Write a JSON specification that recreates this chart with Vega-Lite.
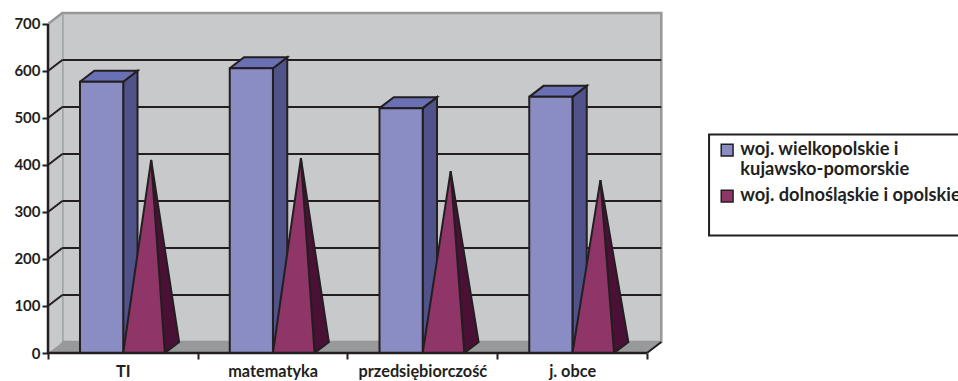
{
  "$schema": "https://vega.github.io/schema/vega-lite/v6.json",
  "width": 910,
  "height": 340,
  "padding": {"left": 48, "top": 13, "right": 0, "bottom": 28},
  "autosize": "none",
  "background": "white",
  "params": [
    {"name": "DX", "value": 0.0955},
    {"name": "DY", "value": 23.4}
  ],
  "config": {
    "view": {"stroke": null},
    "font": "Lato",
    "axis": {"grid": false}
  },
  "resolve": {"axis": {"x": "independent", "y": "independent"}},
  "datasets": {
    "wyniki": [
      {"kategoria": "TI", "seria": "woj. wielkopolskie i kujawsko-pomorskie", "wynik": 577},
      {"kategoria": "matematyka", "seria": "woj. wielkopolskie i kujawsko-pomorskie", "wynik": 606},
      {"kategoria": "przedsiębiorczość", "seria": "woj. wielkopolskie i kujawsko-pomorskie", "wynik": 521},
      {"kategoria": "j. obce", "seria": "woj. wielkopolskie i kujawsko-pomorskie", "wynik": 545},
      {"kategoria": "TI", "seria": "woj. dolnośląskie i opolskie", "wynik": 399},
      {"kategoria": "matematyka", "seria": "woj. dolnośląskie i opolskie", "wynik": 403},
      {"kategoria": "przedsiębiorczość", "seria": "woj. dolnośląskie i opolskie", "wynik": 375},
      {"kategoria": "j. obce", "seria": "woj. dolnośląskie i opolskie", "wynik": 356}
    ],
    "poziomy": [
      {"poziom": 100}, {"poziom": 200}, {"poziom": 300},
      {"poziom": 400}, {"poziom": 500}, {"poziom": 600}
    ],
    "plaszczyzny": [
      {"plaszczyzna": "lewa"},
      {"plaszczyzna": "podloga"}
    ]
  },
  "layer": [
    {
      "description": "Back wall",
      "data": {"values": [{"sciana": "tylna"}]},
      "mark": {"type": "rect", "fill": "#c8c9cb", "stroke": "#96989a", "strokeWidth": 2.5},
      "encoding": {
        "x": {"datum": {"expr": "DX"}, "type": "quantitative", "axis": null},
        "x2": {"datum": {"expr": "4 + DX"}},
        "y": {"datum": {"expr": "DY"}, "type": "quantitative", "axis": null},
        "y2": {"datum": {"expr": "700 + DY"}}
      }
    },
    {
      "description": "Left wall and floor as closed outlines; carries both position scales and axes",
      "data": {"name": "plaszczyzny"},
      "transform": [
        {"calculate": "datum.plaszczyzna == 'lewa' ? [0, DX, DX, 0, 0] : [0, 4, 4 + DX, DX, 0]", "as": "xs"},
        {"calculate": "datum.plaszczyzna == 'lewa' ? [0, DY, 700 + DY, 700, 0] : [0, 0, DY, DY, 0]", "as": "ys"},
        {"calculate": "[0, 1, 2, 3, 4]", "as": "kolejnosc"},
        {"flatten": ["xs", "ys", "kolejnosc"]}
      ],
      "mark": {"type": "line", "filled": true, "strokeWidth": 0},
      "encoding": {
        "x": {
          "field": "xs",
          "type": "quantitative",
          "scale": {"domain": [0, 6.0768], "nice": false, "zero": false},
          "axis": {
            "values": [0, 0.5, 1, 1.5, 2, 2.5, 3, 3.5, 4],
            "title": null,
            "domain": false,
            "tickColor": "#231f20",
            "tickWidth": 2,
            "tickSize": 6,
            "tickOpacity": {"condition": {"test": "datum.value % 1 == 0", "value": 1}, "value": 0},
            "labelExpr": "datum.value == 0.5 ? 'TI' : datum.value == 1.5 ? 'matematyka' : datum.value == 2.5 ? 'przedsiębiorczość' : datum.value == 3.5 ? 'j. obce' : ''",
            "labelFont": "Lato",
            "labelFontWeight": "bold",
            "labelFontSize": 16.3,
            "labelColor": "#231f20",
            "labelPadding": 4,
            "labelOverlap": false,
            "labelFlush": false
          }
        },
        "y": {
          "field": "ys",
          "type": "quantitative",
          "scale": {"domain": [0, 723.4], "nice": false, "zero": false},
          "axis": {
            "values": [0, 100, 200, 300, 400, 500, 600, 700],
            "title": null,
            "domain": false,
            "tickColor": "#231f20",
            "tickWidth": 2,
            "tickSize": 6,
            "labelFont": "Lato",
            "labelFontWeight": "bold",
            "labelFontSize": 15,
            "labelColor": "#231f20",
            "labelPadding": 2,
            "labelOverlap": false,
            "labelFlush": false
          }
        },
        "detail": {"field": "plaszczyzna"},
        "order": {"field": "kolejnosc", "type": "quantitative"},
        "fill": {"condition": {"test": "datum.plaszczyzna == 'lewa'", "value": "#c8c9cb"}, "value": "#98999b"}
      }
    },
    {
      "description": "Gridlines on the back wall",
      "data": {"name": "poziomy"},
      "transform": [{"calculate": "datum.poziom + DY", "as": "poziom_tyl"}],
      "mark": {"type": "rule", "stroke": "#231f20", "strokeWidth": 2},
      "encoding": {
        "x": {"datum": {"expr": "DX"}, "type": "quantitative", "axis": null},
        "x2": {"datum": {"expr": "4 + DX"}},
        "y": {"field": "poziom_tyl", "type": "quantitative", "axis": null}
      }
    },
    {
      "description": "Gridlines running across the left wall",
      "data": {"name": "poziomy"},
      "transform": [{"calculate": "datum.poziom + DY", "as": "poziom_tyl"}],
      "mark": {"type": "rule", "stroke": "#231f20", "strokeWidth": 2},
      "encoding": {
        "x": {"datum": 0, "type": "quantitative", "axis": null},
        "x2": {"datum": {"expr": "DX"}},
        "y": {"field": "poziom", "type": "quantitative", "axis": null},
        "y2": {"field": "poziom_tyl"}
      }
    },
    {
      "description": "Grey top edge of the left wall",
      "data": {"values": [{"krawedz": "gora"}]},
      "mark": {"type": "rule", "stroke": "#96989a", "strokeWidth": 2.5},
      "encoding": {
        "x": {"datum": 0, "type": "quantitative", "axis": null},
        "x2": {"datum": {"expr": "DX"}},
        "y": {"datum": 700, "type": "quantitative", "axis": null},
        "y2": {"datum": {"expr": "700 + DY"}}
      }
    },
    {
      "description": "Right edge of the floor",
      "data": {"values": [{"krawedz": "podloga"}]},
      "mark": {"type": "rule", "stroke": "#231f20", "strokeWidth": 2},
      "encoding": {
        "x": {"datum": 4, "type": "quantitative", "axis": null},
        "x2": {"datum": {"expr": "4 + DX"}},
        "y": {"datum": 0, "type": "quantitative", "axis": null},
        "y2": {"datum": {"expr": "DY"}}
      }
    },
    {
      "description": "Vertical axis line",
      "data": {"values": [{"os": "y"}]},
      "mark": {"type": "rule", "stroke": "#231f20", "strokeWidth": 2.5},
      "encoding": {
        "x": {"datum": 0, "type": "quantitative", "axis": null},
        "y": {"datum": 0, "type": "quantitative", "axis": null},
        "y2": {"datum": 700}
      }
    },
    {
      "description": "Column sides and tops, shaded per face",
      "data": {"name": "wyniki"},
      "transform": [
        {"filter": "indexof(datum.seria, 'wielkopolskie') >= 0"},
        {"calculate": "indexof(['TI','matematyka','przedsiębiorczość','j. obce'], datum.kategoria)", "as": "nr"},
        {"calculate": "datum.nr + 0.2137", "as": "x0"},
        {"calculate": "datum.x0 + 0.2885", "as": "x1"},
        {"calculate": "[[datum.x1, datum.x1 + DX, datum.x1 + DX, datum.x1, datum.x1], [datum.x0, datum.x0 + DX, datum.x1 + DX, datum.x1, datum.x0]]", "as": "sciany_x"},
        {"calculate": "[[0, DY, datum.wynik + DY, datum.wynik, 0], [datum.wynik, datum.wynik + DY, datum.wynik + DY, datum.wynik, datum.wynik]]", "as": "sciany_y"},
        {"calculate": "['bok', 'gora']", "as": "sciana"},
        {"flatten": ["sciany_x", "sciany_y", "sciana"]},
        {"calculate": "[0, 1, 2, 3, 4]", "as": "kolejnosc"},
        {"flatten": ["sciany_x", "sciany_y", "kolejnosc"]}
      ],
      "mark": {"type": "line", "filled": true, "stroke": "#231f20", "strokeWidth": 2, "strokeJoin": "miter"},
      "encoding": {
        "x": {"field": "sciany_x", "type": "quantitative", "axis": null},
        "y": {"field": "sciany_y", "type": "quantitative", "axis": null},
        "detail": [{"field": "kategoria"}, {"field": "sciana"}],
        "order": {"field": "kolejnosc", "type": "quantitative"},
        "fill": {"condition": {"test": "datum.sciana == 'bok'", "value": "#50528a"}, "value": "#6a70b4"}
      }
    },
    {
      "description": "Column fronts",
      "data": {"name": "wyniki"},
      "transform": [
        {"filter": "indexof(datum.seria, 'wielkopolskie') >= 0"},
        {"calculate": "indexof(['TI','matematyka','przedsiębiorczość','j. obce'], datum.kategoria)", "as": "nr"},
        {"calculate": "datum.nr + 0.2137", "as": "x0"},
        {"calculate": "datum.x0 + 0.2885", "as": "x1"}
      ],
      "mark": {"type": "rect", "stroke": "#231f20", "strokeWidth": 2},
      "encoding": {
        "x": {"field": "x0", "type": "quantitative", "axis": null},
        "x2": {"field": "x1"},
        "y": {"field": "wynik", "type": "quantitative", "axis": null},
        "y2": {"datum": 0},
        "fill": {
          "field": "seria",
          "type": "nominal",
          "scale": {
            "domain": ["woj. wielkopolskie i kujawsko-pomorskie", "woj. dolnośląskie i opolskie"],
            "range": ["#8a8cc4", "#8f3568"]
          },
          "legend": {
            "orient": "none",
            "legendX": 670,
            "legendY": 128,
            "title": null,
            "symbolType": "square",
            "symbolSize": 140,
            "symbolStrokeColor": "#231f20",
            "symbolStrokeWidth": 1.5,
            "rowPadding": 7,
            "labelFont": "Lato",
            "labelFontWeight": "bold",
            "labelFontSize": 18.3,
            "labelColor": "#231f20",
            "labelLimit": 0,
            "labelOffset": 4,
            "labelExpr": "indexof(datum.label, 'wielkopolskie') >= 0 ? ['woj. wielkopolskie i', 'kujawsko-pomorskie'] : datum.label"
          }
        }
      }
    },
    {
      "description": "Pyramid sides",
      "data": {"name": "wyniki"},
      "transform": [
        {"filter": "indexof(datum.seria, 'dolno') >= 0"},
        {"calculate": "indexof(['TI','matematyka','przedsiębiorczość','j. obce'], datum.kategoria)", "as": "nr"},
        {"calculate": "datum.nr + 0.5022", "as": "p0"},
        {"calculate": "datum.nr + 0.78", "as": "p1"},
        {"calculate": "(datum.p0 + datum.p1 + DX) / 2", "as": "xa"},
        {"calculate": "datum.wynik + DY / 2", "as": "ya"},
        {"calculate": "[datum.p1, datum.p1 + DX, datum.xa, datum.p1]", "as": "xs"},
        {"calculate": "[0, DY, datum.ya, 0]", "as": "ys"},
        {"calculate": "[0, 1, 2, 3]", "as": "kolejnosc"},
        {"flatten": ["xs", "ys", "kolejnosc"]}
      ],
      "mark": {"type": "line", "filled": true, "fill": "#4a1035", "stroke": "#231f20", "strokeWidth": 2, "strokeJoin": "miter"},
      "encoding": {
        "x": {"field": "xs", "type": "quantitative", "axis": null},
        "y": {"field": "ys", "type": "quantitative", "axis": null},
        "detail": {"field": "kategoria"},
        "order": {"field": "kolejnosc", "type": "quantitative"}
      }
    },
    {
      "description": "Pyramid fronts",
      "data": {"name": "wyniki"},
      "transform": [
        {"filter": "indexof(datum.seria, 'dolno') >= 0"},
        {"calculate": "indexof(['TI','matematyka','przedsiębiorczość','j. obce'], datum.kategoria)", "as": "nr"},
        {"calculate": "datum.nr + 0.5022", "as": "p0"},
        {"calculate": "datum.nr + 0.78", "as": "p1"},
        {"calculate": "(datum.p0 + datum.p1 + DX) / 2", "as": "xa"},
        {"calculate": "datum.wynik + DY / 2", "as": "ya"},
        {"calculate": "[datum.p0, datum.p1, datum.xa, datum.p0]", "as": "xs"},
        {"calculate": "[0, 0, datum.ya, 0]", "as": "ys"},
        {"calculate": "[0, 1, 2, 3]", "as": "kolejnosc"},
        {"flatten": ["xs", "ys", "kolejnosc"]}
      ],
      "mark": {"type": "line", "filled": true, "stroke": "#231f20", "strokeWidth": 2, "strokeJoin": "miter"},
      "encoding": {
        "x": {"field": "xs", "type": "quantitative", "axis": null},
        "y": {"field": "ys", "type": "quantitative", "axis": null},
        "detail": {"field": "kategoria"},
        "order": {"field": "kolejnosc", "type": "quantitative"},
        "fill": {"field": "seria", "type": "nominal"}
      }
    },
    {
      "description": "Horizontal axis line",
      "data": {"values": [{"os": "x"}]},
      "mark": {"type": "rule", "stroke": "#231f20", "strokeWidth": 2.5},
      "encoding": {
        "x": {"datum": 0, "type": "quantitative", "axis": null},
        "x2": {"datum": 4},
        "y": {"datum": 0, "type": "quantitative", "axis": null}
      }
    },
    {
      "description": "Frame around the legend",
      "data": {"values": [{"ramka": "legenda"}]},
      "mark": {"type": "rect", "fill": null, "stroke": "#231f20", "strokeWidth": 2, "clip": false},
      "encoding": {
        "x": {"datum": 4.4144, "type": "quantitative", "axis": null},
        "x2": {"datum": 6.2},
        "y": {"datum": 464.9, "type": "quantitative", "axis": null},
        "y2": {"datum": 250}
      }
    }
  ]
}
